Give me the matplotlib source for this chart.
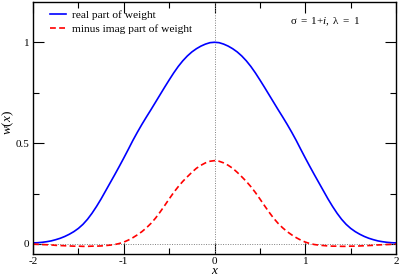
import matplotlib
matplotlib.use('Agg')
import matplotlib.pyplot as plt
from matplotlib.ticker import MultipleLocator
import numpy as np

plt.rcParams['font.family'] = ['Liberation Serif', 'DejaVu Serif']
plt.rcParams['mathtext.fontset'] = 'custom'
plt.rcParams['mathtext.it'] = 'Liberation Serif:italic'
plt.rcParams['mathtext.rm'] = 'Liberation Serif'

# sample positions, x = -2 .. 2 in steps of 0.05
x = np.linspace(-2, 2, 81)

# values
w_real = [0.005, 0.006, 0.008, 0.011, 0.015, 0.021, 0.028, 0.037, 0.048, 0.061,
          0.077, 0.097, 0.122, 0.152, 0.186, 0.223, 0.263, 0.303, 0.343, 0.384,
          0.426, 0.469, 0.513, 0.554, 0.593, 0.63, 0.666, 0.703, 0.74, 0.777,
          0.813, 0.848, 0.88, 0.908, 0.932, 0.952, 0.968, 0.981, 0.991, 0.998,
          1.0,
          0.998, 0.991, 0.981, 0.968, 0.952, 0.932, 0.908, 0.88, 0.848, 0.813,
          0.777, 0.74, 0.703, 0.666, 0.63, 0.593, 0.554, 0.513, 0.469, 0.426,
          0.384, 0.343, 0.303, 0.263, 0.223, 0.186, 0.152, 0.122, 0.097, 0.077,
          0.061, 0.048, 0.037, 0.028, 0.021, 0.015, 0.011, 0.008, 0.006, 0.005]
w_imag = [-0.001, -0.002, -0.003, -0.004, -0.005, -0.007, -0.008, -0.009, -0.01, -0.011,
          -0.011, -0.012, -0.012, -0.011, -0.011, -0.01, -0.008, -0.006, -0.003, 0.002,
          0.009, 0.019, 0.031, 0.045, 0.061, 0.08, 0.102, 0.128, 0.158, 0.19,
          0.223, 0.255, 0.284, 0.31, 0.333, 0.355, 0.375, 0.39, 0.402, 0.41,
          0.413,
          0.41, 0.402, 0.39, 0.375, 0.355, 0.333, 0.31, 0.284, 0.255, 0.223,
          0.19, 0.158, 0.128, 0.102, 0.08, 0.061, 0.045, 0.031, 0.019, 0.009,
          0.002, -0.003, -0.006, -0.008, -0.01, -0.011, -0.011, -0.012, -0.012, -0.011,
          -0.011, -0.01, -0.009, -0.008, -0.007, -0.005, -0.004, -0.003, -0.002, -0.001]

fig = plt.figure(figsize=(3.99, 2.77), dpi=100)
ax = fig.add_axes([0.0827, 0.083, 0.91, 0.91])

ax.axvline(0, color='grey', lw=0.7, ls=(0, (1, 1.5)))
ax.axhline(0, color='grey', lw=0.7, ls=(0, (1, 1.5)))
ax.plot(x, w_real, color='#0000ff', lw=1.2, label='real part of weight')
ax.plot(x, w_imag, color='#ff0000', lw=1.2, ls=(0, (3.5, 2)), label='minus imag part of weight')

ax.set_xlim(-2, 2)
ax.set_ylim(-0.05, 1.2)
ax.xaxis.set_minor_locator(MultipleLocator(0.5))
ax.yaxis.set_minor_locator(MultipleLocator(0.25))
ax.set_xticks([-2, -1, 0, 1, 2])
ax.set_xticklabels(['-2', '-1', '0', '1', '2'])
ax.set_yticks([0, 0.5, 1])
ax.set_yticklabels(['0', '0.5', '1'])
ax.tick_params(which='both', direction='in', top=True, right=True, labelsize=8, width=0.8)
ax.tick_params(which='major', length=8)
ax.tick_params(axis='x', which='major', pad=2)
ax.tick_params(axis='y', which='major', pad=2.5)
ax.tick_params(which='minor', length=4)
for s in ax.spines.values():
    s.set_linewidth(1.0)

ax.set_xlabel('$x$', fontsize=9.5, labelpad=-0.5)
ax.set_ylabel('$w(x)$', fontsize=9.5)
ax.yaxis.set_label_coords(-0.048, 0.52)

ax.legend(loc='upper left', frameon=False, fontsize=8.2, handlelength=1.4,
          handletextpad=0.5, labelspacing=0.35, borderaxespad=0.3,
          bbox_to_anchor=(0.025, 1.0))
ax.text(0.9, 0.92, r'$\mathrm{\sigma\ =\ 1{+}}i\mathrm{,\ \lambda\ =\ 1}$', transform=ax.transAxes,
        ha='right', va='center', fontsize=8)

fig.savefig('out.png', dpi=100)
